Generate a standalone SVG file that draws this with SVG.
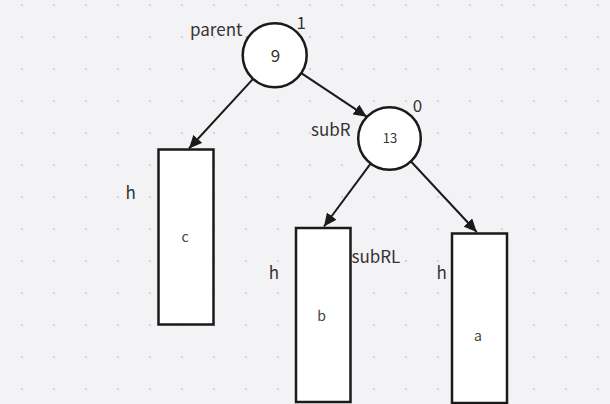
<svg xmlns="http://www.w3.org/2000/svg" width="610" height="404" viewBox="0 0 610 404">
<defs>
<pattern id="grid" width="32" height="32" patternUnits="userSpaceOnUse">
<rect x="21" y="4" width="2" height="2" fill="#d4d4d8"/>
</pattern>
<marker id="arr" markerUnits="userSpaceOnUse" markerWidth="14" markerHeight="12" refX="13" refY="6" orient="auto">
<path d="M0,0 L13,6 L0,12 Z" fill="#1a1a1a"/>
</marker>
<style>
.node{fill:#ffffff;stroke:#1a1a1a;stroke-width:2.5}
.edge{stroke:#1a1a1a;stroke-width:2;fill:none;marker-end:url(#arr)}
.lbl{font-family:"Noto Sans CJK SC","Noto Sans",sans-serif;font-size:17px;fill:#333333}
.sm{font-family:"Noto Sans CJK SC","Noto Sans",sans-serif;font-size:13px;fill:#333333;text-anchor:middle}
.let{font-family:"Noto Sans CJK SC","Noto Sans",sans-serif;font-size:14px;fill:#444444;text-anchor:middle}
</style>
</defs>
<rect width="610" height="404" fill="#f3f3f5"/>
<rect width="610" height="404" fill="url(#grid)"/>
<g id="connectors">
<line class="edge" x1="253.1" y1="78.9" x2="189" y2="148.5"/>
<line class="edge" x1="301.3" y1="73.1" x2="366.7" y2="116.7"/>
<line class="edge" x1="370.6" y1="163.7" x2="324" y2="226.5"/>
<line class="edge" x1="411" y1="161.5" x2="476.7" y2="232"/>
</g>
<g id="node-parent">
<circle class="node" cx="274.7" cy="55.3" r="32"/>
<text class="lbl" x="190" y="35.5">parent</text>
<text class="lbl" x="296.5" y="29.3">1</text>
<text class="lbl" x="275.5" y="61.7" text-anchor="middle">9</text>
</g>
<g id="node-subR">
<circle class="node" cx="389.5" cy="138.5" r="31.3"/>
<text class="lbl" x="311" y="135.7">subR</text>
<text class="lbl" x="412.8" y="112.3">0</text>
<text class="sm" x="390" y="143.3">13</text>
</g>
<g id="node-c">
<rect class="node" x="158.5" y="149.5" width="55" height="175"/>
<text class="lbl" x="125.5" y="199">h</text>
<text class="let" x="185" y="242.3">c</text>
</g>
<g id="node-b">
<rect class="node" x="296" y="228" width="54.5" height="174"/>
<text class="lbl" x="268.8" y="279.3">h</text>
<text class="lbl" x="351.5" y="263.3">subRL</text>
<text class="let" x="321.5" y="320.5">b</text>
</g>
<g id="node-a">
<rect class="node" x="452" y="233.5" width="55" height="169.5"/>
<text class="lbl" x="436.5" y="279.3">h</text>
<text class="let" x="478" y="340.7">a</text>
</g>
</svg>
